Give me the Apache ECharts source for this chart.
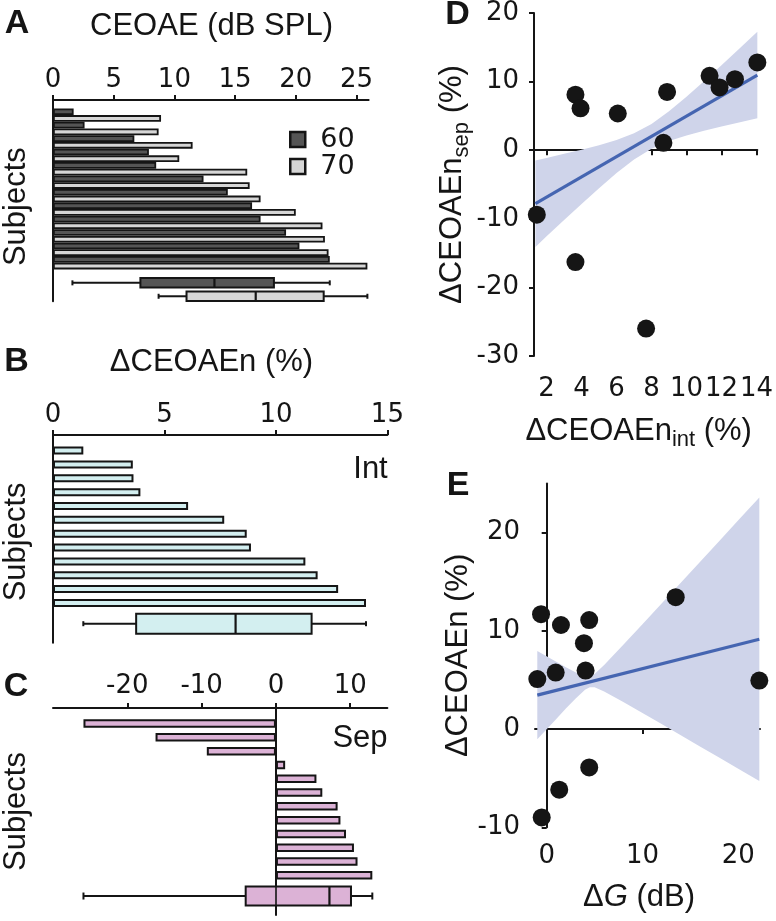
<!DOCTYPE html>
<html><head><meta charset="utf-8">
<script src="https://cdn.jsdelivr.net/npm/echarts@6/dist/echarts.min.js"></script>
<style>html,body{margin:0;padding:0;background:#fff}#c{width:776px;height:921px}</style>
</head><body><div id="c"></div><script>
// ---------- Panel A : CEOAE (dB SPL) ----------
const ceoae60 = [1.7, 2.6, 6.7, 7.9, 8.5, 12.4, 14.4, 16.4, 17.1, 19.2, 20.3, 22.8];
const ceoae70 = [8.9, 8.7, 11.5, 10.4, 16.0, 16.2, 17.1, 20.0, 22.2, 22.4, 22.7, 25.9];
const box60 = [1.6, 7.2, 13.3, 18.2, 22.8];   // min, q1, median, q3, max
const box70 = [8.7, 11.0, 16.7, 22.3, 25.9];
const ticksA = [0, 5, 10, 15, 20, 25];
// ---------- Panel B : dCEOAEn Int ----------
const intBars = [1.36, 3.58, 3.61, 3.92, 6.06, 7.68, 8.69, 8.88, 11.32, 11.87, 12.79, 14.04];
const boxInt = [1.36, 3.73, 8.19, 11.6, 14.04];
// ---------- Panel C : dCEOAEn Sep ----------
const sepBars = [-25.9, -16.2, -9.3, 1.24, 5.45, 6.24, 8.3, 8.68, 9.43, 10.5, 10.98, 12.97];
const boxSep = [-25.9, -4.07, 7.2, 10.1, 12.97];
const ticksC = [-20, -10, 0, 10];
// ---------- Panel D : sep vs int ----------
const dIntX = [1.44, 3.65, 3.94, 3.65, 6.07, 7.69, 8.68, 8.89, 11.32, 11.89, 12.77, 14.05];
const dSepY = [-9.4, 8.1, 6.1, -16.3, 5.35, -26.0, 1.07, 8.5, 10.85, 9.15, 10.36, 12.8];
const dFitX = [1.36, 14.05];
const dFitY = [-7.8, 10.95];
const dBandX = [1.36, 2, 3, 4, 5, 6, 7, 8, 9, 10, 11, 12, 13, 14.05];
const dBandLo = [-14.11, -12.54, -10.17, -7.83, -5.53, -3.34, -1.36, 0.21, 1.33, 2.14, 2.84, 3.46, 4.05, 4.65];
const dBandHi = [-1.49, -1.12, -0.53, 0.07, 0.73, 1.48, 2.46, 3.83, 5.67, 7.80, 10.06, 12.38, 14.75, 17.25];
const ticksDx = [2, 4, 6, 8, 10, 12, 14];
// ---------- Panel E : dCEOAEn vs dG ----------
const gX = [-0.59, 1.49, 4.44, 3.89, 13.47, -0.98, 0.94, 4.06, 22.2, 4.44, 1.31, -0.52];
const gY = [11.7, 10.6, 11.1, 8.75, 13.43, 5.09, 5.76, 5.96, 4.94, -3.9, -6.17, -9.0];
const eFitX = [-0.98, 22.2];
const eFitY = [3.46, 9.15];
const eBandX = [-0.98, 1, 2, 3, 4, 4.5, 5, 6, 8, 10, 12, 14, 16, 18, 20, 22.2];
const eBandLo = [-1.04, 1.04, 2.09, 3.10, 4.01, 4.26, 4.25, 3.84, 2.76, 1.64, 0.51, -0.63, -1.76, -2.90, -4.04, -5.29];
const eBandHi = [7.96, 6.86, 6.31, 5.78, 5.37, 5.36, 5.61, 6.52, 8.58, 10.68, 12.79, 14.91, 17.02, 19.14, 21.26, 23.59];
const ticksEx = [0, 10, 20];
const ticksEy = [-10, 0, 10, 20];

// ---------- styling ----------
const INK = '#151515';
const SANS = '"Liberation Sans", Arial, Helvetica, sans-serif';
const TICKF = '"DejaVu Sans", sans-serif';
const slots = Array.from({length: 60}, (_, i) => String(i));

function axisLine() { return {show: true, lineStyle: {color: INK, width: 2}}; }
function axisTick(vals) { const t = {show: true, length: 5, lineStyle: {color: INK, width: 2}}; if (vals) t.customValues = vals; return t; }
function axisLabel(margin, vals) { const l = {color: INK, fontSize: 26, fontFamily: TICKF, margin: margin}; if (vals) l.customValues = vals; return l; }

function boxRender(h, cap) {
  return function (params, api) {
    const cat = api.value(5);
    const p = [0, 1, 2, 3, 4].map(k => api.coord([api.value(k), cat]));
    const cy = p[0][1];
    const st = {stroke: INK, lineWidth: 2};
    return {type: 'group', children: [
      {type: 'line', shape: {x1: p[0][0], y1: cy, x2: p[1][0], y2: cy}, style: st},
      {type: 'line', shape: {x1: p[3][0], y1: cy, x2: p[4][0], y2: cy}, style: st},
      {type: 'line', shape: {x1: p[0][0], y1: cy - cap / 2, x2: p[0][0], y2: cy + cap / 2}, style: st},
      {type: 'line', shape: {x1: p[4][0], y1: cy - cap / 2, x2: p[4][0], y2: cy + cap / 2}, style: st},
      {type: 'rect', shape: {x: p[1][0], y: cy - h / 2, width: p[3][0] - p[1][0], height: h}, style: {fill: api.visual('color'), stroke: INK, lineWidth: 2}},
      {type: 'line', shape: {x1: p[2][0], y1: cy - h / 2, x2: p[2][0], y2: cy + h / 2}, style: {stroke: INK, lineWidth: 2.2}}
    ]};
  };
}

// confidence band: one polygon through the library's coordinate system
function bandRender(xs, lo, hi) {
  return function (params, api) {
    if (params.dataIndex !== 0) return null;
    const pts = [];
    for (let i = 0; i < xs.length; i++) pts.push(api.coord([xs[i], hi[i]]));
    for (let i = xs.length - 1; i >= 0; i--) pts.push(api.coord([xs[i], lo[i]]));
    return {type: 'polygon', shape: {points: pts}, style: {fill: api.visual('color')}};
  };
}

const catY = (grid, gapPad) => ({
  type: 'category', gridIndex: grid, inverse: true, data: slots,
  axisLine: axisLine(), axisTick: {show: false}, axisLabel: {show: false}, splitLine: {show: false},
  name: 'Subjects', nameLocation: 'middle', nameRotate: 90, nameGap: 21,
  nameTextStyle: {fontSize: 31, fontFamily: SANS, color: INK, padding: gapPad}
});

const BAND = '#cfd4ea';
const FIT = '#4565b1';

const option = {
  animation: false,
  backgroundColor: '#fff',
  textStyle: {fontFamily: SANS},
  grid: [
    {left: 48, top: 100, width: 320.6, height: 201.3},
    {left: 48, top: 435, width: 339.4, height: 207.75},
    {left: 48, top: 708, width: 339.4, height: 207},
    {left: 534, top: 13, width: 226, height: 343},
    {left: 535, top: 483.6, width: 225, height: 343.7}
  ],
  xAxis: [
    {type: 'value', gridIndex: 0, position: 'top', min: 0, max: 26, axisLine: axisLine(), axisTick: axisTick(ticksA), axisLabel: axisLabel(7, ticksA), splitLine: {show: false}},
    {type: 'value', gridIndex: 1, position: 'top', min: 0, max: 15, interval: 5, axisLine: axisLine(), axisTick: axisTick(), axisLabel: axisLabel(7), splitLine: {show: false}},
    {type: 'value', gridIndex: 2, position: 'top', min: -30, max: 15, axisLine: axisLine(), axisTick: axisTick(ticksC), axisLabel: axisLabel(9, ticksC), splitLine: {show: false}},
    {type: 'value', gridIndex: 3, position: 'bottom', min: 1.28, max: 14.05, axisLine: axisLine(), axisTick: axisTick(ticksDx), axisLabel: axisLabel(20, ticksDx), splitLine: {show: false},
     name: '{m|ΔCEOAEn}{s|int}{m| (%)}', nameLocation: 'middle', nameGap: 55,
     nameTextStyle: {padding: [0, 14, 0, 0], rich: {m: {fontSize: 31, fontFamily: SANS, color: INK, lineHeight: 40}, s: {fontSize: 22, fontFamily: SANS, color: INK, lineHeight: 24, verticalAlign: 'bottom'}}}},
    {type: 'value', gridIndex: 4, position: 'bottom', min: -1.22, max: 22.27, axisLine: axisLine(), axisTick: axisTick(ticksEx), axisLabel: axisLabel(16, ticksEx), splitLine: {show: false},
     name: '{m|Δ}{i|G}{m| (dB)}', nameLocation: 'middle', nameGap: 52,
     nameTextStyle: {padding: [0, 17, 0, 0], rich: {m: {fontSize: 31, fontFamily: SANS, color: INK, lineHeight: 36}, i: {fontSize: 31, fontFamily: SANS, fontStyle: 'italic', color: INK, lineHeight: 36}}}}
  ],
  yAxis: [
    catY(0, [0, 12, 0, 0]),
    catY(1, [0, 6, 0, 0]),
    catY(2, [0, 0, 0, 0]),
    {type: 'value', gridIndex: 3, min: -30, max: 20, interval: 10, axisLine: axisLine(), axisTick: axisTick(), axisLabel: axisLabel(15), splitLine: {show: false},
     name: '{m|ΔCEOAEn}{s|sep}{m| (%)}', nameLocation: 'middle', nameRotate: 90, nameGap: 55,
     nameTextStyle: {rich: {m: {fontSize: 31, fontFamily: SANS, color: INK, lineHeight: 40}, s: {fontSize: 22, fontFamily: SANS, color: INK, lineHeight: 24, verticalAlign: 'bottom'}}}},
    {type: 'value', gridIndex: 4, min: -10, max: 25, axisLine: axisLine(), axisTick: axisTick(ticksEy), axisLabel: axisLabel(15, ticksEy), splitLine: {show: false},
     name: 'ΔCEOAEn (%)', nameLocation: 'middle', nameRotate: 90, nameGap: 50,
     nameTextStyle: {fontSize: 31, fontFamily: SANS, color: INK}}
  ],
  legend: {
    data: ['60', '70'], orient: 'vertical', left: 284, top: 121, itemWidth: 15, itemHeight: 15, itemGap: 0, icon: 'rect',
    itemStyle: {borderColor: INK, borderWidth: 2.5},
    textStyle: {fontSize: 27, fontFamily: TICKF, color: INK, lineHeight: 23.5, padding: [0, 0, 0, 10]}
  },
  series: [
    // Panel A
    {name: '60', type: 'bar', xAxisIndex: 0, yAxisIndex: 0, barWidth: 6.7, barGap: '-100%',
     itemStyle: {color: '#555555', borderColor: INK, borderWidth: 1.8},
     data: ceoae60.map((v, i) => [v, 3 + 4 * i])},
    {name: '70', type: 'bar', xAxisIndex: 0, yAxisIndex: 0, barWidth: 6.7, barGap: '-100%',
     itemStyle: {color: '#d6d6d6', borderColor: INK, borderWidth: 1.8},
     data: ceoae70.map((v, i) => [v, 5 + 4 * i])},
    {type: 'custom', xAxisIndex: 0, yAxisIndex: 0, renderItem: boxRender(9.5, 5), encode: {x: [0, 1, 2, 3, 4], y: 5},
     data: [{value: box60.concat([54]), itemStyle: {color: '#555555'}}, {value: box70.concat([58]), itemStyle: {color: '#d6d6d6'}}], z: 3},
    // Panel B
    {type: 'bar', xAxisIndex: 1, yAxisIndex: 1, barWidth: 8, itemStyle: {color: '#d3eff0', borderColor: INK, borderWidth: 2},
     data: intBars.map((v, i) => [v, 4 + 4 * i])},
    {type: 'custom', xAxisIndex: 1, yAxisIndex: 1, renderItem: boxRender(20, 5), encode: {x: [0, 1, 2, 3, 4], y: 5},
     data: [{value: boxInt.concat([54]), itemStyle: {color: '#d3eff0'}}], z: 3},
    // Panel C
    {type: 'bar', xAxisIndex: 2, yAxisIndex: 2, barWidth: 8.5, itemStyle: {color: '#dcb2d6', borderColor: INK, borderWidth: 2},
     data: sepBars.map((v, i) => [v, 4 + 4 * i]),
     markLine: {silent: true, symbol: 'none', label: {show: false}, lineStyle: {color: INK, width: 1.6, type: 'solid'}, data: [{xAxis: 0}]}},
    {type: 'custom', xAxisIndex: 2, yAxisIndex: 2, renderItem: boxRender(19, 7), encode: {x: [0, 1, 2, 3, 4], y: 5},
     data: [{value: boxSep.concat([54]), itemStyle: {color: '#dcb2d6'}}], z: 3},
    // Panel D
    {type: 'custom', xAxisIndex: 3, yAxisIndex: 3, renderItem: bandRender(dBandX, dBandLo, dBandHi), silent: true,
     itemStyle: {color: BAND}, encode: {x: 0, y: [1, 2]}, data: dBandX.map((x, i) => [x, dBandLo[i], dBandHi[i]]), z: 1},
    {type: 'line', xAxisIndex: 3, yAxisIndex: 3, symbol: 'none', lineStyle: {color: FIT, width: 3.2}, data: dFitX.map((x, i) => [x, dFitY[i]]), z: 2},
    {type: 'scatter', xAxisIndex: 3, yAxisIndex: 3, symbol: 'circle', symbolSize: 18, clip: false, itemStyle: {color: INK, opacity: 1}, data: dIntX.map((x, i) => [x, dSepY[i]]), z: 3},
    // Panel E
    {type: 'custom', xAxisIndex: 4, yAxisIndex: 4, renderItem: bandRender(eBandX, eBandLo, eBandHi), silent: true,
     itemStyle: {color: BAND}, encode: {x: 0, y: [1, 2]}, data: eBandX.map((x, i) => [x, eBandLo[i], eBandHi[i]]), z: 1},
    {type: 'line', xAxisIndex: 4, yAxisIndex: 4, symbol: 'none', lineStyle: {color: FIT, width: 3.2}, data: eFitX.map((x, i) => [x, eFitY[i]]), z: 2},
    {type: 'scatter', xAxisIndex: 4, yAxisIndex: 4, symbol: 'circle', symbolSize: 18, clip: false, itemStyle: {color: INK, opacity: 1}, data: gX.map((x, i) => [x, gY[i]]), z: 3}
  ],
  graphic: [
    {type: 'text', x: 17, y: 24, style: {text: 'A', font: 'bold 34px ' + SANS, fill: INK, textAlign: 'center', textVerticalAlign: 'middle'}},
    {type: 'text', x: 211.5, y: 26, style: {text: 'CEOAE (dB SPL)', font: '31px ' + SANS, fill: INK, textAlign: 'center', textVerticalAlign: 'middle'}},
    {type: 'text', x: 16.5, y: 362, style: {text: 'B', font: 'bold 34px ' + SANS, fill: INK, textAlign: 'center', textVerticalAlign: 'middle'}},
    {type: 'text', x: 211.5, y: 362, style: {text: 'ΔCEOAEn (%)', font: '31px ' + SANS, fill: INK, textAlign: 'center', textVerticalAlign: 'middle'}},
    {type: 'text', x: 370.5, y: 469, style: {text: 'Int', font: '31px ' + SANS, fill: INK, textAlign: 'center', textVerticalAlign: 'middle'}},
    {type: 'text', x: 16, y: 687, style: {text: 'C', font: 'bold 34px ' + SANS, fill: INK, textAlign: 'center', textVerticalAlign: 'middle'}},
    {type: 'text', x: 360, y: 738, style: {text: 'Sep', font: '31px ' + SANS, fill: INK, textAlign: 'center', textVerticalAlign: 'middle'}},
    {type: 'text', x: 457.5, y: 15, style: {text: 'D', font: 'bold 34px ' + SANS, fill: INK, textAlign: 'center', textVerticalAlign: 'middle'}},
    {type: 'text', x: 458, y: 486, style: {text: 'E', font: 'bold 34px ' + SANS, fill: INK, textAlign: 'center', textVerticalAlign: 'middle'}}
  ]
};

const chart = echarts.init(document.getElementById('c'), null, {renderer: 'canvas', width: 776, height: 921});
chart.setOption(option);
</script></body></html>
